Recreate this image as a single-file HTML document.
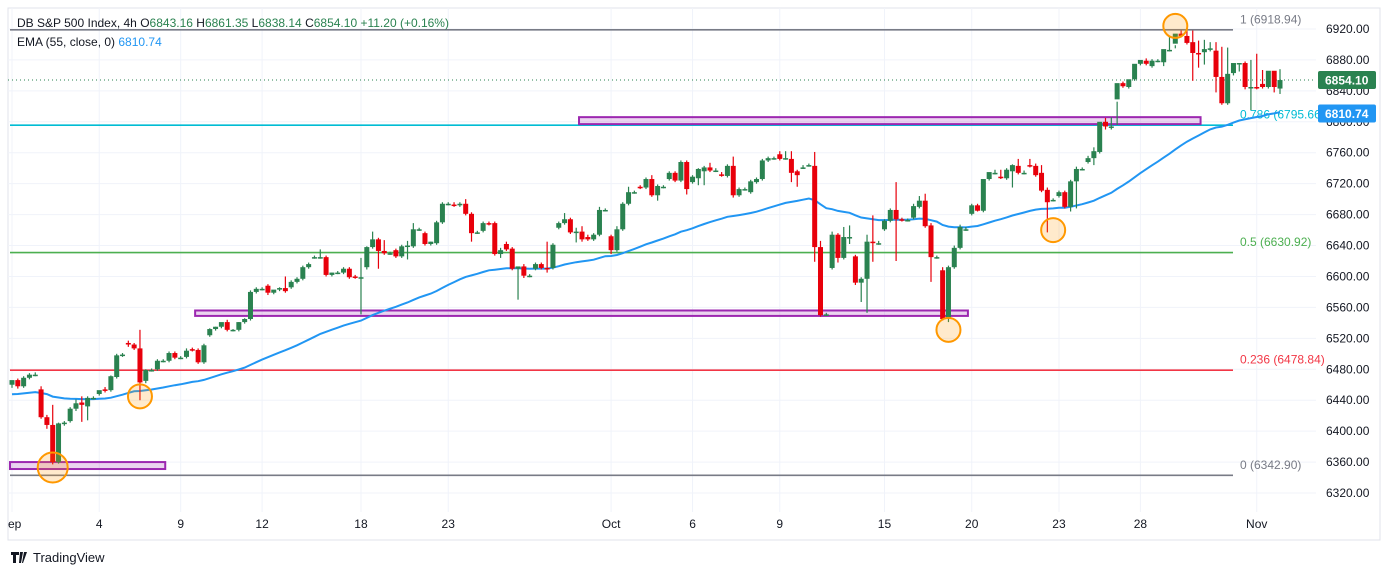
<!DOCTYPE html>
<html><head><meta charset="utf-8">
<style>
body{margin:0;background:#fff;width:1388px;height:575px;overflow:hidden;font-family:"Liberation Sans",sans-serif;}
svg{position:absolute;left:0;top:0}
</style></head>
<body>
<svg id="chart" width="1388" height="575" viewBox="0 0 1388 575" xmlns="http://www.w3.org/2000/svg">
  <rect x="0" y="0" width="1388" height="575" fill="#fff"/>
  <rect x="8" y="8" width="1372" height="532" fill="none" stroke="#e0e3eb" stroke-width="1"/>
  <g id="grid"></g>
  <g id="levels"></g>
  <g id="zones"></g>
  <g id="ema"></g>
  <g id="candles"></g>
  <g id="circles"></g>
  <g id="yaxis"></g>
  <g id="xaxis"></g>
  <text x="17" y="27" font-size="12" fill="#131722">DB S&amp;P 500 Index, 4h <tspan fill="#131722">O</tspan><tspan style="fill:#2a8250">6843.16</tspan> H<tspan style="fill:#2a8250">6861.35</tspan> L<tspan style="fill:#2a8250">6838.14</tspan> C<tspan style="fill:#2a8250">6854.10</tspan> <tspan style="fill:#2a8250">+11.20 (+0.16%)</tspan></text>
  <text x="17" y="46" font-size="12" fill="#131722">EMA (55, close, 0) <tspan fill="#2196f3">6810.74</tspan></text>
  <g>
    <path d="M11 552h8v3h-3v8h-3v-8h-2z M20 552h3l-2 11h-2z M24 552h3l-4 11h-1z" fill="#131722"/>
    <text x="33" y="562" font-size="13" fill="#131722">TradingView</text>
  </g>
</svg>
<script>
// candle data: open, high, low, close
const opens=[6460,6466,6458,6469,6473,6454,6418,6408,6360,6410,6413,6429,6437,6432,6443,6448,6454,6453,6470,6498,6514,6512,6507,6465,6479,6480,6491,6491,6501,6495,6496,6506,6505,6489,6524,6532,6535,6541,6531,6531,6541,6545,6580,6584,6588,6579,6583,6585,6586,6593,6597,6612,6625,6625,6625,6602,6605,6605,6610,6600,6599,6612,6638,6648,6633,6630,6634,6626,6640,6639,6661,6656,6642,6643,6670,6694,6693,6692,6694,6681,6657,6659,6669,6669,6629,6642,6636,6610,6613,6601,6610,6616,6611,6611,6663,6669,6674,6658,6658,6651,6648,6654,6686,6652,6634,6661,6694,6709,6716,6715,6726,6705,6716,6726,6734,6724,6748,6722,6727,6736,6741,6737,6732,6730,6743,6705,6713,6709,6722,6726,6750,6753,6758,6753,6752,6736,6741,6744,6743,6638,6551,6611,6654,6624,6651,6626,6592,6597,6645,6643,6661,6672,6686,6674,6673,6676,6690,6698,6666,6625,6608,6545,6612,6637,6661,6681,6692,6685,6726,6734,6729,6727,6736,6743,6734,6744,6743,6734,6712,6699,6704,6709,6690,6723,6739,6748,6753,6761,6800,6794,6829,6850,6845,6855,6875,6879,6872,6879,6877,6893,6901,6914,6911,6903,6889,6890,6893,6892,6858,6824,6863,6876,6876,6845,6845,6849,6845,6866,6843];
const highs=[6464,6468,6471,6475,6476,6458,6421,6434,6411,6413,6431,6441,6445,6445,6445,6452,6457,6472,6500,6501,6517,6514,6531,6480,6481,6493,6493,6503,6503,6497,6507,6508,6507,6513,6533,6535,6538,6544,6532,6541,6546,6582,6586,6586,6590,6581,6586,6600,6595,6599,6614,6618,6627,6635,6627,6605,6607,6612,6612,6602,6624,6639,6658,6650,6647,6632,6636,6641,6646,6669,6663,6658,6645,6672,6696,6696,6696,6696,6700,6683,6659,6671,6671,6671,6637,6645,6638,6612,6616,6603,6618,6618,6645,6643,6671,6682,6676,6663,6665,6654,6656,6690,6688,6654,6665,6696,6716,6711,6718,6728,6731,6719,6718,6736,6736,6750,6750,6731,6740,6743,6747,6740,6735,6745,6755,6715,6715,6725,6728,6752,6755,6755,6762,6762,6762,6738,6744,6746,6761,6646,6553,6658,6656,6664,6666,6628,6599,6654,6679,6646,6674,6688,6722,6676,6675,6694,6704,6707,6669,6627,6612,6614,6640,6667,6664,6694,6694,6687,6733,6738,6738,6740,6745,6752,6737,6752,6746,6744,6715,6701,6711,6711,6725,6742,6741,6756,6767,6766,6805,6806,6796,6852,6853,6857,6877,6882,6881,6881,6881,6910,6895,6918,6918,6918,6905,6906,6903,6903,6897,6896,6867,6865,6878,6880,6888,6867,6851,6852,6868,6879,6862];
const lows=[6456,6455,6456,6467,6471,6416,6403,6357,6358,6407,6411,6426,6412,6414,6441,6446,6450,6451,6468,6496,6509,6505,6440,6462,6477,6478,6489,6489,6493,6493,6494,6503,6487,6487,6522,6530,6533,6529,6529,6529,6539,6543,6578,6582,6576,6577,6581,6579,6584,6591,6595,6610,6623,6623,6600,6600,6603,6603,6597,6597,6551,6609,6636,6610,6628,6628,6624,6624,6622,6637,6659,6640,6640,6641,6668,6692,6690,6690,6679,6645,6655,6657,6666,6627,6624,6633,6608,6570,6598,6599,6608,6609,6605,6609,6661,6667,6655,6644,6645,6646,6646,6652,6684,6629,6632,6659,6692,6707,6713,6713,6703,6698,6714,6724,6722,6722,6706,6720,6718,6718,6735,6735,6729,6728,6702,6703,6711,6707,6720,6724,6748,6751,6750,6751,6722,6716,6739,6742,6619,6548,6549,6609,6618,6622,6642,6589,6567,6553,6619,6641,6659,6670,6620,6671,6671,6674,6688,6663,6593,6623,6543,6541,6610,6635,6659,6679,6684,6683,6724,6732,6726,6725,6715,6732,6732,6741,6729,6709,6657,6697,6702,6688,6684,6688,6737,6746,6744,6759,6790,6790,6826,6844,6843,6853,6873,6873,6870,6877,6872,6891,6899,6909,6900,6853,6870,6874,6891,6838,6822,6822,6860,6874,6842,6815,6842,6843,6843,6838,6836];
const closes=[6466,6458,6469,6473,6473,6418,6408,6360,6410,6411,6429,6436,6434,6443,6443,6453,6452,6471,6498,6499,6512,6507,6463,6479,6479,6491,6491,6501,6495,6495,6504,6505,6489,6511,6532,6535,6541,6531,6531,6541,6545,6580,6584,6584,6579,6583,6585,6581,6593,6597,6612,6616,6625,6625,6602,6605,6605,6610,6599,6599,6599,6638,6648,6633,6630,6630,6626,6639,6640,6661,6661,6642,6645,6670,6694,6694,6692,6694,6681,6656,6657,6669,6668,6629,6634,6635,6610,6613,6601,6601,6616,6611,6610,6641,6669,6674,6657,6658,6648,6648,6654,6686,6686,6634,6661,6694,6709,6709,6715,6726,6705,6717,6716,6734,6724,6748,6713,6729,6739,6741,6737,6737,6731,6743,6705,6713,6713,6723,6726,6750,6753,6753,6752,6753,6734,6731,6741,6744,6638,6550,6551,6654,6624,6651,6651,6592,6597,6645,6644,6643,6672,6686,6674,6673,6673,6691,6698,6665,6625,6625,6545,6612,6637,6664,6661,6692,6685,6726,6735,6734,6728,6738,6744,6734,6734,6743,6731,6711,6696,6699,6709,6690,6723,6739,6739,6753,6762,6800,6794,6794,6850,6846,6855,6875,6880,6875,6879,6879,6894,6893,6914,6911,6902,6889,6888,6894,6895,6858,6824,6862,6876,6876,6845,6845,6844,6845,6866,6845,6854];
const yTicks=[6920,6880,6840,6800,6760,6720,6680,6640,6600,6560,6520,6480,6440,6400,6360,6320];
const xLabels=["ep","4","9","12","18","23","Oct","6","9","15","20","23","28","Nov"];
const xLabelCandle=[0,15,29,43,60,75,103,117,132,150,165,180,194,214];
const fibLevels=[1,0.786,0.5,0.236,0];
const fibPrices=[6918.94,6795.66,6630.92,6478.84,6342.90];
const zoneTops=[6806,6556,6360];
const zoneBottoms=[6797,6549,6351];
const zoneStart=[98,32,0];
const zoneEnd=[204,164,26];
const circleCandle=[200,179,161,22,7];
const circlePrice=[6924,6660,6531,6445,6353];
const lastPrice=6854.10, emaLast=6810.74;

const NS="http://www.w3.org/2000/svg";
const PL=8,PR=1316,PT=8,PB=512;
const y=v=>29+(6920-v)*(464/600);
const n=closes.length;
const x=i=>12+i*(1268/(n-1));
function mk(tag,attrs,parent){const e=document.createElementNS(NS,tag);for(const k in attrs)e.setAttribute(k,attrs[k]);parent.appendChild(e);return e;}
const G=id=>document.getElementById(id);

// grid
yTicks.forEach(t=>{const l=mk('line',{x1:PL,x2:PR,y1:y(t),y2:y(t),stroke:'#f0f3fa','stroke-width':1},G('grid'));

});
xLabelCandle.forEach(c=>{const l=mk('line',{x1:x(c),x2:x(c),y1:PT,y2:PB,stroke:'#f0f3fa','stroke-width':1},G('grid'));

});

// fib levels
const fibColors=['#787b86','#00bcd4','#4caf50','#f23645','#787b86'];
fibLevels.forEach((f,i)=>{const yy=y(fibPrices[i]);
const l=mk('line',{x1:10,x2:1233,y1:yy,y2:yy,stroke:fibColors[i],'stroke-width':1.6},G('levels'));


const t=mk('text',{x:1240,y:yy-6.5,'font-size':12,fill:fibColors[i]},G('levels'));
t.textContent=f+' ('+fibPrices[i].toFixed(2)+')';

});

// dotted last price line
const dl=mk('line',{x1:PL,x2:PR,y1:y(lastPrice),y2:y(lastPrice),stroke:'#2a8250','stroke-width':1,'stroke-dasharray':'1 3'},G('levels'));



// zones
zoneTops.forEach((tp,i)=>{const x1=zoneStart[i]===0?10:x(zoneStart[i])-3,x2=x(zoneEnd[i])+2;
const r=mk('rect',{x:x1,y:y(tp),width:x2-x1,height:y(zoneBottoms[i])-y(tp),fill:'rgba(156,39,176,0.2)',stroke:'#9c27b0','stroke-width':2},G('zones'));

});

// EMA
let e=6447,pts=[];const a=2/56;
closes.forEach((c,i)=>{e=e+a*(c-e);pts.push(x(i).toFixed(1)+','+y(e).toFixed(1));});
const ep=mk('polyline',{points:pts.join(' '),fill:'none',stroke:'#2196f3','stroke-width':2},G('ema'));



// candles
closes.forEach((c,i)=>{const o=opens[i],up=c>=o,col=up?'#2a8250':'#e8000b',cx=x(i);
const w=mk('line',{x1:cx,x2:cx,y1:y(highs[i]),y2:y(lows[i]),stroke:col,'stroke-width':1.2},G('candles'));


const top=y(Math.max(o,c)),h=Math.max(1.5,Math.abs(y(o)-y(c)));
const b=mk('rect',{x:cx-2.5,y:top,width:5,height:h,fill:col},G('candles'));

});

// circles
circleCandle.forEach((ci,i)=>{const c=mk('circle',{cx:x(ci),cy:y(circlePrice[i]),r:i===4?15:12,fill:'rgba(255,152,0,0.2)',stroke:'#ff9800','stroke-width':2},G('circles'));

});

// y axis
yTicks.forEach(t=>{const tx=mk('text',{x:1326,y:y(t)+4,'font-size':12,fill:'#131722'},G('yaxis'));
tx.textContent=t.toFixed(2);

});
[[lastPrice,'#2a8250'],[emaLast,'#2196f3']].forEach(([v,col])=>{const yy=y(v);
const r=mk('rect',{x:1318,y:yy-9,width:58,height:18,rx:2,fill:col},G('yaxis'));


const t=mk('text',{x:1325,y:yy+4.5,'font-size':12,'font-weight':'bold',fill:'#fff'},G('yaxis'));
t.textContent=v.toFixed(2);

});

// x axis
xLabels.forEach((lb,i)=>{const t=mk('text',{x:i===0?8:x(xLabelCandle[i]),y:528,'font-size':12,fill:'#131722','text-anchor':i===0?'start':'middle'},G('xaxis'));
t.textContent=lb;

});
</script>
</body></html>
